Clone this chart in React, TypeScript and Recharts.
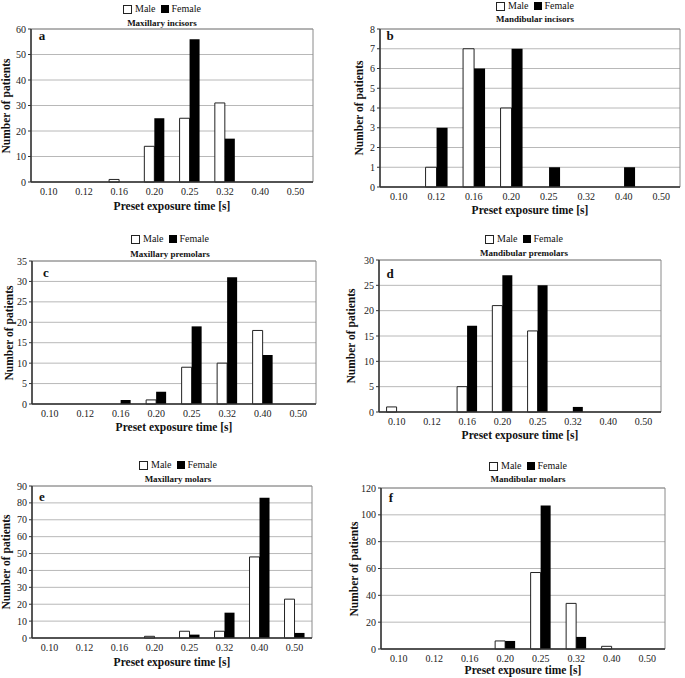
import React from "react";
import { BarChart, Bar, XAxis, YAxis, CartesianGrid, ReferenceArea } from "recharts";

const categories = ["0.10", "0.12", "0.16", "0.20", "0.25", "0.32", "0.40", "0.50"];

const maleA = [0, 0, 1, 14, 25, 31, 0, 0];
const femaleA = [0, 0, 0, 25, 56, 17, 0, 0];
const maleB = [0, 1, 7, 4, 0, 0, 0, 0];
const femaleB = [0, 3, 6, 7, 1, 0, 1, 0];
const maleC = [0, 0, 0, 1, 9, 10, 18, 0];
const femaleC = [0, 0, 1, 3, 19, 31, 12, 0];
const maleD = [1, 0, 5, 21, 16, 0, 0, 0];
const femaleD = [0, 0, 17, 27, 25, 1, 0, 0];
const maleE = [0, 0, 0, 1, 4, 4, 48, 23];
const femaleE = [0, 0, 0, 0, 2, 15, 83, 3];
const maleF = [0, 0, 0, 6, 57, 34, 2, 0];
const femaleF = [0, 0, 0, 6, 107, 9, 0, 0];

const ticksA = [0, 10, 20, 30, 40, 50, 60];
const ticksB = [0, 1, 2, 3, 4, 5, 6, 7, 8];
const ticksC = [0, 5, 10, 15, 20, 25, 30, 35];
const ticksD = [0, 5, 10, 15, 20, 25, 30];
const ticksE = [0, 10, 20, 30, 40, 50, 60, 70, 80, 90];
const ticksF = [0, 20, 40, 60, 80, 100, 120];

const titles = [
  "Maxillary incisors",
  "Mandibular incisors",
  "Maxillary premolars",
  "Mandibular premolars",
  "Maxillary molars",
  "Mandibular molars",
];
const letters = ["a", "b", "c", "d", "e", "f"];

const build = (m: number[], f: number[]) =>
  categories.map((c, i) => ({ cat: c, male: m[i], female: f[i] }));

const FONT = "'Liberation Serif', 'Times New Roman', serif";

type Layout = {
  x0: number; x1: number; y0: number; y1: number;
  cl: number; ct: number; cw: number; ch: number;
  legendY: number; titleY: number; headCx: number;
  xLabelY: number; yLabelX: number;
  letterX: number; letterY: number;
};

const layouts: Layout[] = [
  { x0: 31, x1: 313, y0: 29, y1: 182, cl: 0, ct: 0, cw: 335, ch: 222, legendY: 9, titleY: 23, headCx: 162, xLabelY: 207, yLabelX: 7, letterX: 42, letterY: 35 },
  { x0: 380, x1: 680, y0: 29, y1: 187, cl: 345, ct: 0, cw: 340, ch: 222, legendY: 6, titleY: 19, headCx: 535, xLabelY: 211, yLabelX: 360, letterX: 390, letterY: 35 },
  { x0: 32, x1: 316, y0: 261, y1: 404, cl: 0, ct: 225, cw: 335, ch: 220, legendY: 239, titleY: 254, headCx: 170, xLabelY: 428, yLabelX: 10, letterX: 46, letterY: 272 },
  { x0: 379, x1: 661, y0: 260, y1: 412, cl: 345, ct: 225, cw: 335, ch: 225, legendY: 239, titleY: 253, headCx: 524, xLabelY: 436, yLabelX: 352, letterX: 390, letterY: 273 },
  { x0: 32, x1: 312, y0: 486, y1: 638, cl: 0, ct: 455, cw: 335, ch: 223, legendY: 465, titleY: 479, headCx: 178, xLabelY: 663, yLabelX: 7, letterX: 42, letterY: 496 },
  { x0: 381, x1: 665, y0: 488, y1: 649, cl: 345, ct: 455, cw: 335, ch: 223, legendY: 466, titleY: 479, headCx: 528, xLabelY: 671, yLabelX: 355, letterX: 391, letterY: 497 },
];

const panels = [
  { data: build(maleA, femaleA), ticks: ticksA },
  { data: build(maleB, femaleB), ticks: ticksB },
  { data: build(maleC, femaleC), ticks: ticksC },
  { data: build(maleD, femaleD), ticks: ticksD },
  { data: build(maleE, femaleE), ticks: ticksE },
  { data: build(maleF, femaleF), ticks: ticksF },
];

const abs = (x: number, y: number): React.CSSProperties => ({
  position: "absolute",
  left: x,
  top: y,
  fontFamily: FONT,
  color: "#111",
  whiteSpace: "nowrap",
  lineHeight: 1,
});

function Panel({ idx }: { idx: number }) {
  const L = layouts[idx];
  const P = panels[idx];
  const ymax = P.ticks[P.ticks.length - 1];
  const margin = { top: L.y0 - L.ct, right: L.cl + L.cw - L.x1, bottom: 0, left: 0 };
  const yW = L.x0 - L.cl;
  const xH = L.ct + L.ch - L.y1;
  const plotCx = (L.x0 + L.x1) / 2;
  const plotCy = (L.y0 + L.y1) / 2;
  return (
    <>
      <div style={{ position: "absolute", left: L.cl, top: L.ct }}>
        <BarChart
          width={L.cw}
          height={L.ch}
          data={P.data}
          margin={margin}
          barCategoryGap="21.5%"
          barGap={0}
        >
          <CartesianGrid vertical={false} stroke="#b8b8b8" strokeWidth={1} horizontalValues={P.ticks} />
          <ReferenceArea x1="0.10" x2="0.50" y1={0} y2={ymax} fill="none" stroke="#8a8a8a" strokeWidth={1} ifOverflow="visible" />
          <XAxis
            dataKey="cat"
            height={xH}
            tickLine={false}
            tickSize={4}
            tickMargin={2}
            axisLine={{ stroke: "#333", strokeWidth: 1.5 }}
            tick={{ fontFamily: FONT, fontSize: 10, fill: "#222" }}
            interval={0}
          />
          <YAxis
            width={yW}
            domain={[0, ymax]}
            ticks={P.ticks}
            interval={0}
            tickSize={3}
            tickMargin={2}
            tickLine={{ stroke: "#333" }}
            axisLine={{ stroke: "#333", strokeWidth: 1.5 }}
            tick={{ fontFamily: FONT, fontSize: 10, fill: "#222" }}
          />
          <Bar dataKey="male" name="Male" fill="#ffffff" stroke="#222" strokeWidth={1} isAnimationActive={false} />
          <Bar dataKey="female" name="Female" fill="#000000" isAnimationActive={false} />
        </BarChart>
      </div>
      <div style={{ ...abs(L.headCx, L.legendY), transform: "translate(-50%, -50%)", fontSize: 10, display: "flex", alignItems: "center" }}>
        <span style={{ display: "inline-block", width: 7, height: 7, border: "1px solid #222", background: "#fff", marginRight: 3 }} />
        <span>Male</span>
        <span style={{ display: "inline-block", width: 8, height: 8, background: "#000", marginLeft: 5, marginRight: 3 }} />
        <span>Female</span>
      </div>
      <div style={{ ...abs(L.headCx, L.titleY), transform: "translate(-50%, -50%)", fontSize: 9, fontWeight: "bold" }}>
        {titles[idx]}
      </div>
      <div style={{ ...abs(L.letterX, L.letterY), transform: "translate(-50%, -50%)", fontSize: 13, fontWeight: "bold" }}>
        {letters[idx]}
      </div>
      <div style={{ ...abs(plotCx, L.xLabelY), transform: "translate(-50%, -50%)", fontSize: 11.5, fontWeight: "bold" }}>
        Preset exposure time [s]
      </div>
      <div style={{ ...abs(L.yLabelX, plotCy), transform: "translate(-50%, -50%) rotate(-90deg)", fontSize: 11.5, fontWeight: "bold" }}>
        Number of patients
      </div>
    </>
  );
}

export default function App() {
  return (
    <div style={{ position: "absolute", left: 0, top: 0, width: 685, height: 678, background: "#fff", overflow: "hidden" }}>
      {layouts.map((_, i) => (
        <Panel key={i} idx={i} />
      ))}
    </div>
  );
}
